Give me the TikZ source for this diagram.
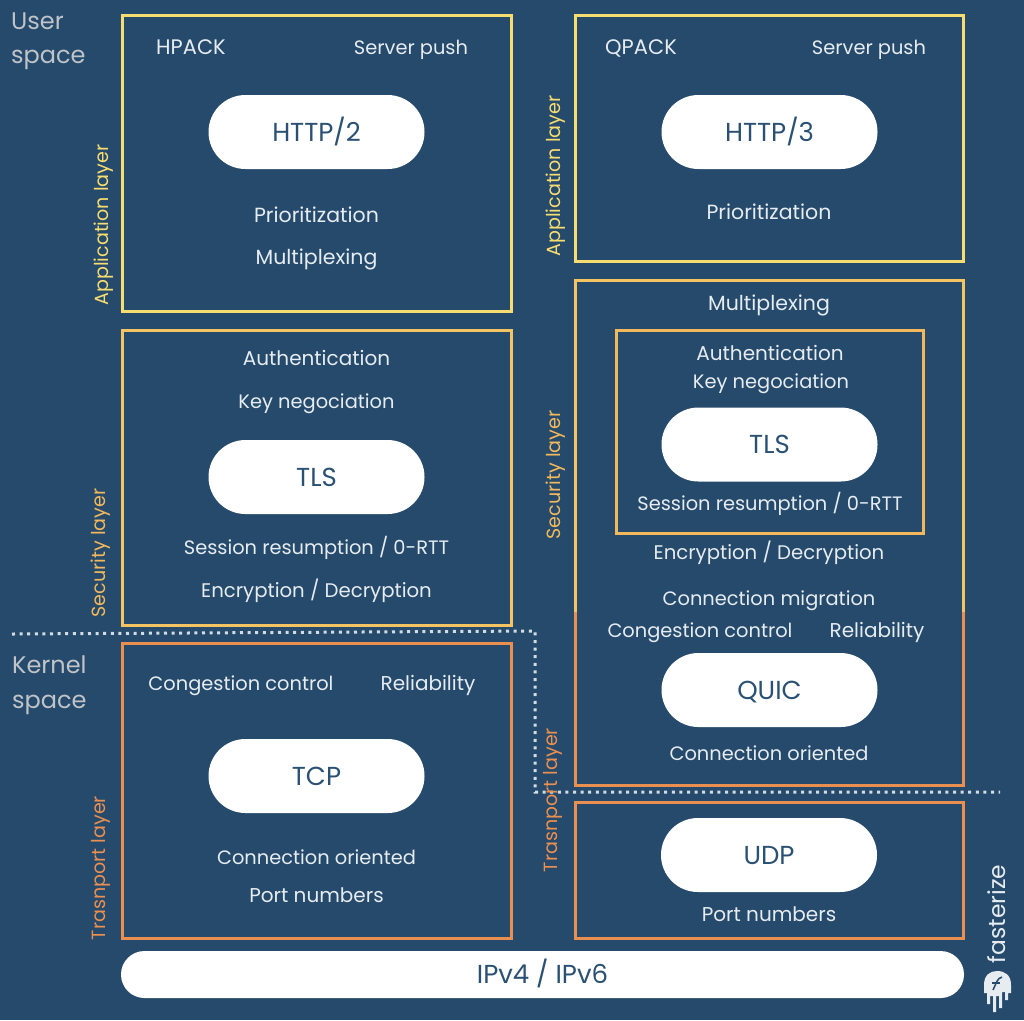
\documentclass[tikz,border=0pt]{standalone}
\usepackage{fontspec}
\setmainfont{Poppins}
\definecolor{bg}{HTML}{254A6C}
\definecolor{yel}{HTML}{F7DC6F}
\definecolor{amber}{HTML}{F2B85C}
\definecolor{org}{HTML}{EA8F50}
\definecolor{txt}{HTML}{E6ECF0}
\definecolor{graytxt}{HTML}{BFC4C9}
\definecolor{navy}{HTML}{2A5073}
\newcommand{\fsz}[1]{\fontsize{#1}{22}\selectfont}
\tikzset{x=1pt,y=-1pt,
 lab/.style={text=txt,font=\fsz{19.4},inner sep=0pt,anchor=center,text height=16pt,text depth=2pt},
 pill/.style={fill=white,rounded corners=36.9pt,minimum width=216pt,minimum height=74pt,inner sep=0pt,text=navy,font=\fontsize{26}{28}\selectfont,anchor=center,text height=18pt,text depth=0pt},
 layerbox/.style={line width=3pt},
 side/.style={font=\fontsize{19.1}{21}\selectfont,inner sep=0pt,rotate=90,anchor=center,text height=16pt,text depth=2pt},
 space/.style={text=graytxt,font=\fontsize{24}{34.5}\selectfont,inner sep=0pt,anchor=west,align=left},
 sep/.style={draw=txt!90!bg,line width=3pt,dash pattern=on 3pt off 4.6pt}}
\begin{document}
\begin{tikzpicture}
\useasboundingbox (0,0) rectangle (1024,1020);
\fill[bg] (0,0) rectangle (1024,1020);
% boxes
\draw[layerbox,yel] (122,15) rectangle (511,311);
\draw[layerbox,amber!70!yel] (122,330) rectangle (511,625);
\draw[layerbox,org] (122,643) rectangle (511,938);
\draw[layerbox,yel] (575,15) rectangle (963,261);
\draw[layerbox,org] (575,612) -- (575,785) -- (963,785) -- (963,612);
\draw[layerbox,amber!70!yel] (575,612) -- (575,280) -- (963,280) -- (963,612);
\draw[layerbox,amber] (616,330) rectangle (923,533);
\draw[layerbox,org] (575,802) rectangle (963,938);
% separators
\coordinate (s1) at (12,634); \coordinate (s2) at (535,631); \coordinate (s3) at (535,792); \coordinate (s4) at (1000,792);
\draw[sep] (s1) -- (s2) -- (s3) -- (s4);
% space labels
\node[space] (us) at (11,41.5) {User\\space};
\node[space] (ks) at (12,685) {Kernel\\space};
% side labels
\node[side,text=yel] (a1) at (101,225) {Application layer};
\node[side,text=amber] (a2) at (98,553) {Security layer};
\node[side,text=org] (a3) at (98,868) {Trasnport layer};
\node[side,text=yel] (b1) at (553,176) {Application layer};
\node[side,text=amber] (b2) at (553,475) {Security layer};
\node[side,text=org] (b3) at (550,800) {Trasnport layer};
% left stack
\node[lab,font=\fsz{21}] (l1) at (191,47) {HPACK};
\node[lab] (l2) at (411,47) {Server push};
\node[pill] (http2) at (316.5,132) {HTTP/2};
\node[lab,font=\fsz{20.5}] (l3) at (316.5,215) {Prioritization};
\node[lab,font=\fsz{20.5}] (l4) at (316.5,257) {Multiplexing};
\node[lab,font=\fsz{20}] (l5) at (316.5,358) {Authentication};
\node[lab] (l6) at (316.5,401) {Key negociation};
\node[pill] (tls1) at (316.5,477) {TLS};
\node[lab] (l7) at (316.5,547) {Session resumption / 0-RTT};
\node[lab,font=\fsz{19.7}] (l8) at (316.5,590) {Encryption / Decryption};
\node[lab] (l9) at (241,683) {Congestion control};
\node[lab,font=\fsz{20}] (l10) at (428,683) {Reliability};
\node[pill] (tcp) at (316.5,776) {TCP};
\node[lab] (l11) at (316.5,857) {Connection oriented};
\node[lab,font=\fsz{20}] (l12) at (316.5,895) {Port numbers};
% right stack
\node[lab,font=\fsz{21}] (r1) at (641,47) {QPACK};
\node[lab] (r2) at (869,47) {Server push};
\node[pill] (http3) at (769.5,132) {HTTP/3};
\node[lab,font=\fsz{20.5}] (r3) at (769,212) {Prioritization};
\node[lab,font=\fsz{20.5}] (r4) at (769,303) {Multiplexing};
\node[lab,font=\fsz{20}] (r5) at (770,353) {Authentication};
\node[lab] (r6) at (771,381) {Key negociation};
\node[pill] (tls2) at (769.5,444.5) {TLS};
\node[lab] (r7) at (770,503) {Session resumption / 0-RTT};
\node[lab,font=\fsz{19.7}] (r8) at (769,552) {Encryption / Decryption};
\node[lab] (r9) at (769,598) {Connection migration};
\node[lab] (r10) at (700,630) {Congestion control};
\node[lab,font=\fsz{20}] (r11) at (877,630) {Reliability};
\node[pill] (quic) at (769.5,690) {QUIC};
\node[lab] (r12) at (769,753) {Connection oriented};
\node[pill] (udp) at (769,855) {UDP};
\node[lab,font=\fsz{20}] (r13) at (769,914) {Port numbers};
% ip bar
\node[pill,minimum width=843pt,minimum height=47pt,rounded corners=23.4pt] (ip) at (542.5,974.5) {IPv4 / IPv6};
% logo
\node[text=txt,font=\fontsize{23.4}{25}\selectfont,rotate=90,inner sep=0pt,anchor=center] (fz) at (997,914) {fasterize};
\fill[txt] (984,985) .. controls (984,975) and (990,971) .. (997,971) .. controls (1005,971) and (1011,975) .. (1011,985) -- (1011,993) -- (1008,993) -- (1008,1000) -- (1005,1000) -- (1005,992) -- (1002,992) -- (1002,1008) -- (999,1008) -- (999,996) -- (996,996) -- (996,1012) -- (993,1012) -- (993,996) -- (990,996) -- (990,1004) -- (987,1004) -- (987,993) -- (984,993) -- cycle;
\draw[bg,line width=1.5pt] (993,990) .. controls (996,984) and (997,978) .. (1002,977);
\draw[bg,line width=1.5pt] (992,983) -- (1000,983);
\end{tikzpicture}
\end{document}
